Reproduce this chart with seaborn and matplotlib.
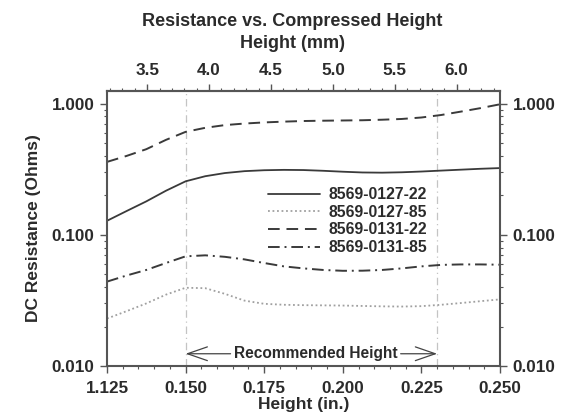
import numpy as np
import pandas as pd
import matplotlib
matplotlib.use("Agg")
import matplotlib.pyplot as plt
import seaborn as sns
from matplotlib.ticker import LogLocator, MultipleLocator, NullFormatter

# ---- data ----
height_in = [0.125, 0.13125, 0.1375, 0.14375, 0.150, 0.15625, 0.1625, 0.16875, 0.175,
             0.18125, 0.1875, 0.19375, 0.200, 0.20625, 0.2125, 0.21875, 0.225,
             0.23125, 0.2375, 0.24375, 0.250]
r_0127_22 = [0.128, 0.152, 0.180, 0.217, 0.256, 0.280, 0.296, 0.306, 0.311,
             0.313, 0.312, 0.308, 0.303, 0.299, 0.298, 0.300, 0.304,
             0.309, 0.314, 0.319, 0.323]
r_0127_85 = [0.0230, 0.0262, 0.0300, 0.0350, 0.0395, 0.0392, 0.0355, 0.0315, 0.0298,
             0.0293, 0.0291, 0.0290, 0.0289, 0.0287, 0.0285, 0.0284, 0.0286,
             0.0293, 0.0302, 0.0312, 0.0322]
r_0131_22 = [0.360, 0.40, 0.45, 0.53, 0.61, 0.655, 0.687, 0.706, 0.720,
             0.730, 0.738, 0.742, 0.745, 0.748, 0.755, 0.765, 0.785,
             0.820, 0.870, 0.925, 0.990]
r_0131_85 = [0.044, 0.049, 0.054, 0.061, 0.0686, 0.0698, 0.068, 0.065, 0.061,
             0.0575, 0.0555, 0.054, 0.0532, 0.0533, 0.054, 0.0555, 0.0575,
             0.059, 0.0595, 0.0595, 0.0592]
series_names = ["8569-0127-22", "8569-0127-85", "8569-0131-22", "8569-0131-85"]
x_ticks = [0.125, 0.150, 0.175, 0.200, 0.225, 0.250]
x_ticklabels = ["1.125", "0.150", "0.175", "0.200", "0.225", "0.250"]
y_ticks = [0.01, 0.1, 1.0]
y_ticklabels = ["0.010", "0.100", "1.000"]
mm_ticks = [3.5, 4.0, 4.5, 5.0, 5.5, 6.0]
rec_lo, rec_hi = 0.150, 0.230

sns.set_style("ticks")
plt.rcParams["font.family"] = ["Liberation Sans", "DejaVu Sans"]
plt.rcParams["font.weight"] = "bold"

TXT = "#2b2b2b"
AX = "#555555"
FS = 12.3

fig = plt.figure(figsize=(5.61, 4.17), dpi=100)
ax = fig.add_axes([107/561, 1-366/417, 393/561, 275/417])

df = pd.DataFrame({"h": height_in * 4,
                   "r": r_0127_22 + r_0127_85 + r_0131_22 + r_0131_85,
                   "s": [n for n in series_names for _ in height_in]})
styles = {
    "8569-0127-22": dict(color="#3a3a3a", ls="-", lw=1.3),
    "8569-0127-85": dict(color="#a0a0a0", ls=(0, (1, 1.5)), lw=1.3),
    "8569-0131-22": dict(color="#3a3a3a", ls=(0, (6, 3.5)), lw=1.4),
    "8569-0131-85": dict(color="#3a3a3a", ls=(0, (6, 2.5, 1, 2.5)), lw=1.4),
}
for name in series_names:
    st = styles[name]
    sub = df[df["s"] == name]
    sns.lineplot(data=sub, x="h", y="r", ax=ax, color=st["color"], linestyle=st["ls"],
                 linewidth=st["lw"], label=name)

ax.set_yscale("log")
ax.set_xlim(0.125, 0.250)
ax.set_ylim(0.01, 1.25)

for xv in (rec_lo, rec_hi):
    ax.axvline(xv, color="#c4c4c4", lw=0.9, ls=(0, (6, 3, 1, 3)), zorder=0)

# ticks
ax.set_xticks(x_ticks)
ax.set_xticklabels(x_ticklabels)
ax.xaxis.set_minor_locator(MultipleLocator(0.005))
ax.set_yticks(y_ticks)
ax.set_yticklabels(y_ticklabels)
ax.yaxis.set_minor_locator(LogLocator(base=10, subs=np.arange(2, 10)))
ax.yaxis.set_minor_formatter(NullFormatter())
ax.tick_params(axis="both", which="major", length=5, width=1, color=AX,
               labelsize=FS, labelcolor=TXT, pad=4)
ax.tick_params(axis="x", which="major", pad=5.5)
ax.tick_params(axis="both", which="minor", length=2.5, width=0.8, color=AX)
ax.tick_params(axis="y", which="both", right=True, labelright=True)
for lab in ax.get_xticklabels() + ax.get_yticklabels():
    lab.set_fontweight("bold")
for sp in ax.spines.values():
    sp.set_color(AX)
    sp.set_linewidth(1.5)

ax.set_xlabel("Height (in.)", fontsize=12.5, fontweight="bold", color=TXT, labelpad=1)
ax.set_ylabel("DC Resistance (Ohms)", fontsize=12.5, fontweight="bold", color=TXT, labelpad=8)

secax = ax.secondary_xaxis("top", functions=(lambda x: x * 25.4, lambda m: m / 25.4))
secax.set_xticks(mm_ticks)
secax.set_xticklabels([f"{m:.1f}" for m in mm_ticks])
secax.xaxis.set_minor_locator(MultipleLocator(0.1))
secax.tick_params(axis="x", which="major", length=5, width=1, color=AX,
                  labelsize=FS, labelcolor=TXT, pad=4)
secax.tick_params(axis="x", which="minor", length=2.5, width=0.8, color=AX)
for lab in secax.get_xticklabels():
    lab.set_fontweight("bold")
secax.spines["top"].set_color(AX)
secax.spines["top"].set_linewidth(1.5)

fig.text(292/561, 1-21.5/417, "Resistance vs. Compressed Height", ha="center", va="center",
         fontsize=13, fontweight="bold", color=TXT)
fig.text(292/561, 1-43/417, "Height (mm)", ha="center", va="center",
         fontsize=13, fontweight="bold", color=TXT)

# recommended height annotation
y_arr = 0.0124
ax.text(0.1913, y_arr, "Recommended Height", ha="center", va="center",
        fontsize=11.2, fontweight="bold", color=TXT)
arrow = dict(arrowstyle="->,head_length=1.3,head_width=0.45", color="#444444", lw=0.9,
             shrinkA=0, shrinkB=0, mutation_scale=11)
ax.annotate("", xy=(rec_lo, y_arr), xytext=(0.1643, y_arr), arrowprops=arrow)
ax.annotate("", xy=(rec_hi, y_arr), xytext=(0.2184, y_arr), arrowprops=arrow)

leg = ax.legend(loc="upper left", bbox_to_anchor=((268-107)/393, 1-(187-91)/275),
                frameon=False, fontsize=11.3, handlelength=3.3, handletextpad=0.55,
                labelspacing=0.17, borderpad=0, borderaxespad=0)
for t in leg.get_texts():
    t.set_fontweight("bold")
    t.set_color(TXT)

fig.savefig("out.png", dpi=100)
